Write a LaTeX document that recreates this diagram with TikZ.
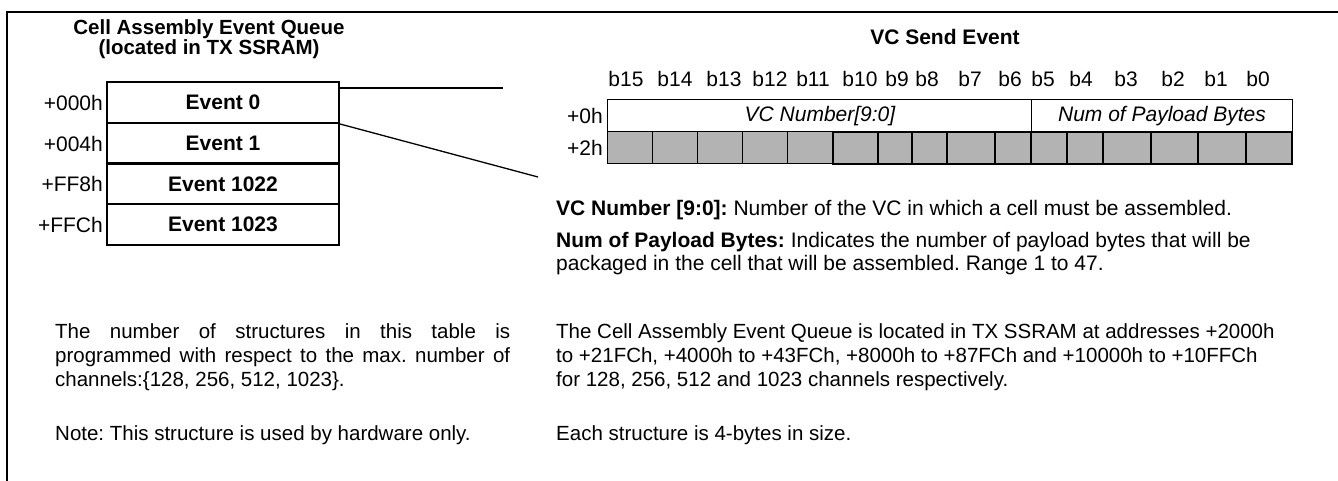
\documentclass[tikz,border=0pt]{standalone}
\usepackage{fontspec}
\setmainfont{Liberation Sans}
\definecolor{cellgray}{RGB}{179,179,179}
\begin{document}
\frenchspacing
\begin{tikzpicture}[x=1pt,y=-1pt,
  txt/.style={inner sep=0pt, font=\fontsize{21}{24}\selectfont},
  ptxt/.style={inner sep=0pt, font=\fontsize{20.5}{24}\selectfont},
  btxt/.style={inner sep=0pt, font=\fontsize{21}{24}\selectfont\bfseries},
  ttxt/.style={inner sep=0pt, font=\fontsize{20.5}{24}\selectfont\bfseries},
  itxt/.style={inner sep=0pt, font=\fontsize{21}{24}\selectfont\itshape},
  framel/.style={line width=2pt},
  thinl/.style={line width=1pt},
  thickl/.style={line width=2pt},
  conn/.style={line width=1.3pt},
  evbox/.style={draw, line width=2pt, minimum width=232pt, minimum height=41pt,
    inner sep=0pt, font=\fontsize{21}{24}\selectfont\bfseries}]
\useasboundingbox (0,0) rectangle (1338,481);
% outer frame (top and left only)
\coordinate (ftr) at (1338,12);
\coordinate (ftl) at (7,12);
\coordinate (fbl) at (7,481);
\draw[framel] (ftr) -- (ftl) -- (fbl);

% left title
\node[ttxt, anchor=base] (t1) at (209,35) {Cell Assembly Event Queue};
\node[ttxt, anchor=base] (t2) at (209,55) {(located in TX SSRAM)};

% event table
\node[evbox] (e0) at (223,102.5) {Event 0};
\node[evbox] (e1) at (223,143.5) {Event 1};
\node[evbox] (e2) at (223,184) {Event 1022};
\node[evbox] (e3) at (223,224.5) {Event 1023};
\node[txt, anchor=east] (o0) at (103,102.5) {+000h};
\node[txt, anchor=east] (o1) at (103,143.5) {+004h};
\node[txt, anchor=east] (o2) at (103,184) {+FF8h};
\node[txt, anchor=east] (o3) at (103,224.5) {+FFCh};

% expansion lines
\coordinate (h1) at (503,88);
\coordinate (d1) at (538,177);
\draw[conn] (e0.east |- h1) -- (h1);
\draw[conn] (e0.south east) -- (d1);

% right title
\node[btxt, anchor=base] (t3) at (945,45) {VC Send Event};

% bit labels
\foreach \xx/\bb in {626/b15, 675/b14, 724/b13, 770/b12, 813/b11, 860/b10,
  897/b9, 927/b8, 970/b7, 1010/b6, 1043/b5, 1081/b4, 1126/b3, 1173/b2,
  1216/b1, 1258/b0}
  \node[txt, anchor=base] (\bb) at (\xx,87) {\bb};

% register grid
\fill[cellgray] (607,132) rectangle (1292,164);
\draw[thinl] (607,100) rectangle (1292,132);
\draw[thinl] (1031,100) -- (1031,132);
\draw[thinl] (607,132) rectangle (833,164);
\foreach \xx in {652,697,742,787}
  \draw[thinl] (\xx,132) -- (\xx,164);
\draw[thickl] (833,132) rectangle (1292,164);
\foreach \xx in {878,912,947,995,1031,1067,1103,1151,1198,1246}
  \draw[thickl] (\xx,132) -- (\xx,164);
\node[txt, anchor=east] (r0) at (603,116) {+0h};
\node[txt, anchor=east] (r2) at (603,148) {+2h};
\node[itxt] (f1) at (820,116) {VC Number[9:0]};
\node[itxt] (f2) at (1162,116) {Num of Payload Bytes};

% field descriptions
\node[txt, anchor=base west] (d1t) at (556,215) {\textbf{VC Number [9:0]:} Number of the VC in which a cell must be assembled.};
\node[txt, anchor=base west] (d2t) at (556,247) {\textbf{Num of Payload Bytes:} Indicates the number of payload bytes that will be};
\node[txt, anchor=base west] (d3t) at (556,270) {packaged in the cell that will be assembled. Range 1 to 47.};

% bottom left notes
\node[ptxt, anchor=base west] (l1) at (55,338) {\makebox[455pt][s]{The number of structures in this table is}};
\node[ptxt, anchor=base west] (l2) at (55,362) {\makebox[455pt][s]{programmed with respect to the max. number of}};
\node[ptxt, anchor=base west] (l3) at (55,386) {channels:\{128, 256, 512, 1023\}.};
\node[ptxt, anchor=base west] (l4) at (55,440) {Note: This structure is used by hardware only.};

% bottom right notes
\node[ptxt, anchor=base west] (m1) at (556,338) {The Cell Assembly Event Queue is located in TX SSRAM at addresses +2000h};
\node[ptxt, anchor=base west] (m2) at (556,362) {to +21FCh, +4000h to +43FCh, +8000h to +87FCh and +10000h to +10FFCh};
\node[ptxt, anchor=base west] (m3) at (556,386) {for 128, 256, 512 and 1023 channels respectively.};
\node[ptxt, anchor=base west] (m4) at (556,440) {Each structure is 4-bytes in size.};
\end{tikzpicture}
\end{document}
